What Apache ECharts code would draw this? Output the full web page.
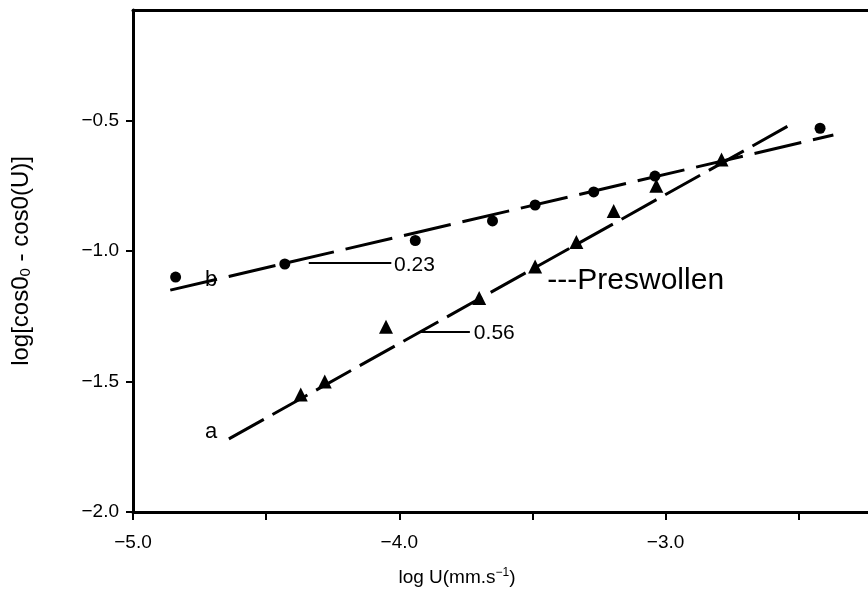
<!DOCTYPE html>
<html><head><meta charset="utf-8">
<script src="https://cdn.jsdelivr.net/npm/echarts@6/dist/echarts.min.js"></script>
<style>html,body{margin:0;padding:0;background:#fff}#c{width:868px;height:592px}</style>
</head><body><div id="c"></div>
<script>
// Axis ranges / ticks
const xLabeled = [-5.0, -4.0, -3.0];
const yTicks = [-2.0, -1.5, -1.0, -0.5];
// Series b (circles) and a (triangles, preswollen)
const seriesB = [[-4.84,-1.10],[-4.43,-1.05],[-3.94,-0.96],[-3.65,-0.885],[-3.49,-0.824],[-3.27,-0.774],[-3.04,-0.713],[-2.42,-0.53]];
const seriesA = [[-4.37,-1.55],[-4.28,-1.50],[-4.05,-1.29],[-3.70,-1.18],[-3.49,-1.06],[-3.335,-0.966],[-3.195,-0.847],[-3.035,-0.75],[-2.79,-0.65]];
// Fitted lines
const fitA = [[-4.64,-1.72],[-2.52,-0.51]];
const fitB = [[-4.86,-1.15],[-2.37,-0.556]];
// Slope annotations
const slopeB = '0.23';
const slopeA = '0.56';

const chart = echarts.init(document.getElementById('c'), null, {renderer:'canvas'});
const FONT = 'Liberation Sans, Arial, sans-serif';
const fmt = v => (v < 0 ? '\u2212' : '') + Math.abs(v).toFixed(1);

chart.setOption({
  animation: false,
  backgroundColor: '#fff',
  grid: {left: 133, top: 10, right: 0, bottom: 80, containLabel: false, outerBoundsMode: 'none'},
  xAxis: [{
    type: 'value', min: -5.0, max: -2.24, interval: 0.5,
    axisLine: {show: true, onZero: false, lineStyle: {color: '#000', width: 3}},
    axisTick: {show: true, inside: false, length: 8, lineStyle: {color: '#000', width: 2}},
    splitLine: {show: false},
    axisLabel: {margin: 21, color: '#000', fontSize: 19, fontFamily: FONT,
      showMaxLabel: false,
      formatter: v => xLabeled.some(t => Math.abs(t - v) < 1e-6) ? fmt(v) : ''}
  }, {
    type: 'value', position: 'top', min: -5.0, max: -2.24,
    axisLine: {show: true, onZero: false, lineStyle: {color: '#000', width: 3}},
    axisTick: {show: false}, axisLabel: {show: false}, splitLine: {show: false}
  }],
  yAxis: {
    type: 'value', min: -2.0, max: -0.077, interval: 0.5,
    axisLine: {show: true, onZero: false, lineStyle: {color: '#000', width: 3}},
    axisTick: {show: true, inside: false, length: 7, lineStyle: {color: '#000', width: 2}},
    splitLine: {show: false},
    axisLabel: {margin: 14, color: '#000', fontSize: 19, fontFamily: FONT, showMaxLabel: false,
      formatter: v => yTicks.some(t => Math.abs(t - v) < 1e-6) ? fmt(v) : ''},
    name: '{n|log[cos0}{b|0}{n| - cos0(U)]}', nameLocation: 'middle', nameGap: 100,
    nameTextStyle: {rich: {
      n: {fontSize: 24, fontFamily: FONT, color: '#000'},
      b: {fontSize: 15, fontFamily: FONT, color: '#000', verticalAlign: 'bottom', padding: [9,0,0,0]}
    }}
  },
  series: [
    {type: 'line', data: fitB, symbol: 'none', silent: true,
      lineStyle: {color: '#000', width: 3, type: [48, 12]}},
    {type: 'line', data: fitA, symbol: 'none', silent: true,
      lineStyle: {color: '#000', width: 3, type: [40, 10]}},
    {type: 'scatter', data: seriesB, symbol: 'circle', symbolSize: 11,
      itemStyle: {color: '#000', opacity: 1}},
    {type: 'scatter', data: seriesA, symbol: 'triangle', symbolSize: 14,
      itemStyle: {color: '#000', opacity: 1}}
  ]
});

// Annotations (labels and leader lines) in data coordinates
const px = p => chart.convertToPixel({xAxisIndex: 0, yAxisIndex: 0}, p);
const annotations = [
  {text: 'b', at: [-4.73, -1.11], size: 22},
  {text: 'a', at: [-4.73, -1.695], size: 22},
  {text: '---Preswollen', at: [-3.444, -1.115], size: 30},
  {text: slopeB, at: [-4.02, -1.055], size: 21},
  {text: slopeA, at: [-3.72, -1.315], size: 21}
];
const leaders = [
  [[-4.34, -1.046], [-4.03, -1.046]],
  [[-3.92, -1.31], [-3.735, -1.31]]
];
const g = [];
annotations.forEach(a => {
  const p = px(a.at);
  g.push({type: 'text', x: p[0], y: p[1], style: {text: a.text, fill: '#000',
    font: a.size + 'px ' + FONT, verticalAlign: 'middle', align: 'left'}});
});
leaders.forEach(l => {
  const p1 = px(l[0]), p2 = px(l[1]);
  g.push({type: 'line', shape: {x1: p1[0], y1: p1[1], x2: p2[0], y2: p2[1]},
    style: {stroke: '#000', lineWidth: 2}});
});
// x-axis title
g.push({type: 'text', x: 457, y: 578, style: {
  text: '{n|log U(mm.s}{s|\u22121}{n|)}', align: 'center', verticalAlign: 'middle',
  rich: {
    n: {fontSize: 19, fontFamily: FONT, fill: '#000'},
    s: {fontSize: 12, fontFamily: FONT, fill: '#000', verticalAlign: 'top', padding: [0,0,10,0]}
  }}});
chart.setOption({graphic: g});
</script></body></html>
